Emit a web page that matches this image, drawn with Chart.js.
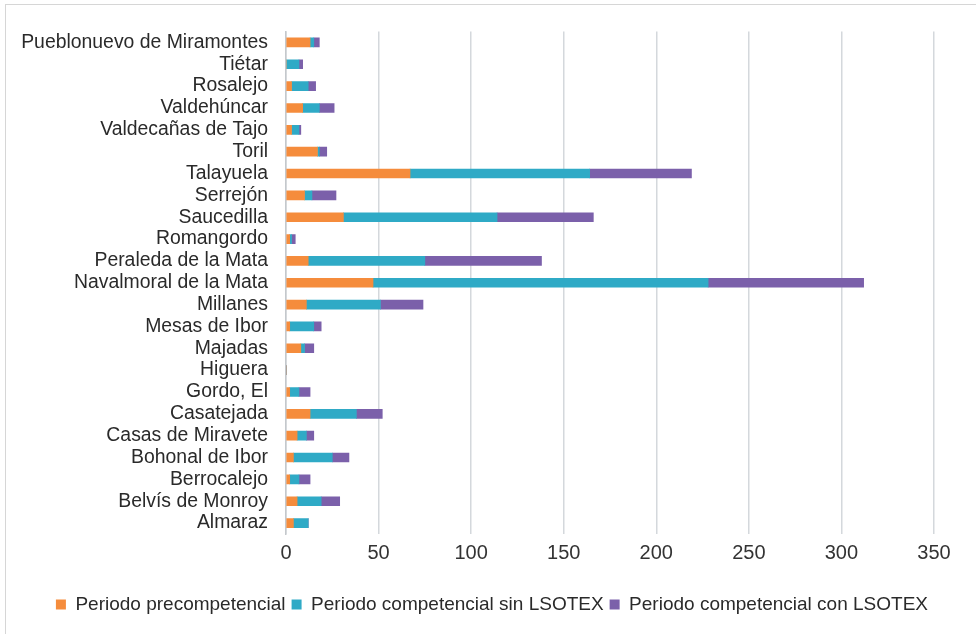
<!DOCTYPE html>
<html>
<head>
<meta charset="utf-8">
<script src="https://cdn.jsdelivr.net/npm/chart.js@4/dist/chart.umd.min.js"></script>
<style>
  html, body { margin: 0; padding: 0; background: #ffffff; }
  #frame { position: absolute; left: 5px; top: 4px; width: 1000px; height: 700px; border: 1px solid #d6d6d6; box-sizing: border-box; }
  #c { position: absolute; left: 0; top: 0; }
</style>
</head>
<body>
<div id="frame"></div>
<canvas id="c" width="976" height="634"></canvas>
<script>
const categories = ["Pueblonuevo de Miramontes", "Tiétar", "Rosalejo", "Valdehúncar", "Valdecañas de Tajo", "Toril", "Talayuela", "Serrejón", "Saucedilla", "Romangordo", "Peraleda de la Mata", "Navalmoral de la Mata", "Millanes", "Mesas de Ibor", "Majadas", "Higuera", "Gordo, El", "Casatejada", "Casas de Miravete", "Bohonal de Ibor", "Berrocalejo", "Belvís de Monroy", "Almaraz"];
const seriesNames = ["Periodo precompetencial", "Periodo competencial sin LSOTEX", "Periodo competencial con LSOTEX"];
const precompetencial = [13, 0, 3, 9, 3, 17, 67, 10, 31, 2, 12, 47, 11, 2, 8, 0, 2, 13, 6, 4, 2, 6, 4];
const sinLSOTEX = [2, 7, 9, 9, 4, 1, 97, 4, 83, 1, 63, 181, 40, 13, 2, 0, 5, 25, 5, 21, 5, 13, 8];
const conLSOTEX = [3, 2, 4, 8, 1, 4, 55, 13, 52, 2, 63, 84, 23, 4, 5, 0, 6, 14, 4, 9, 6, 10, 0];
const xTicks = [0, 50, 100, 150, 200, 250, 300, 350];
const colors = ["#F58C3C", "#2FAAC6", "#7B60AA"];

const FONT = "'Liberation Sans', Arial, sans-serif";
const seriesData = [precompetencial, sinLSOTEX, conLSOTEX];

new Chart(document.getElementById('c'), {
  type: 'bar',
  data: {
    labels: categories,
    datasets: seriesNames.map((n, i) => ({
      label: n,
      data: seriesData[i],
      backgroundColor: colors[i],
      borderWidth: 0,
      barThickness: 9
    }))
  },
  options: {
    responsive: false,
    animation: false,
    indexAxis: 'y',
    layout: { padding: { left: 0, right: 42, top: 31.5, bottom: 10 } },
    scales: {
      x: {
        stacked: true,
        min: xTicks[0],
        max: xTicks[xTicks.length - 1],
        afterBuildTicks: (s) => { s.ticks = xTicks.map(v => ({ value: v })); },
        ticks: { font: { family: FONT, size: 20 }, color: '#333333', padding: 7 },
        grid: { color: '#d4d8dc', lineWidth: 1.5, drawTicks: false },
        border: { display: false },
        afterFit: (s) => { s.height = 55; }
      },
      y: {
        stacked: true,
        grid: { display: false, drawTicks: false },
        border: { display: true, color: '#c4c8cc', width: 1.5 },
        ticks: { font: { family: FONT, size: 19.4 }, color: '#2a2a2a', padding: 18, autoSkip: false },
        afterFit: (s) => { s.width = 286; }
      }
    },
    plugins: {
      legend: {
        position: 'bottom',
        align: 'end',
        labels: { boxWidth: 10, boxHeight: 10, font: { family: FONT, size: 19 }, color: '#2a2a2a', padding: 6 }
      },
      tooltip: { enabled: false }
    }
  }
});
</script>
</body>
</html>
